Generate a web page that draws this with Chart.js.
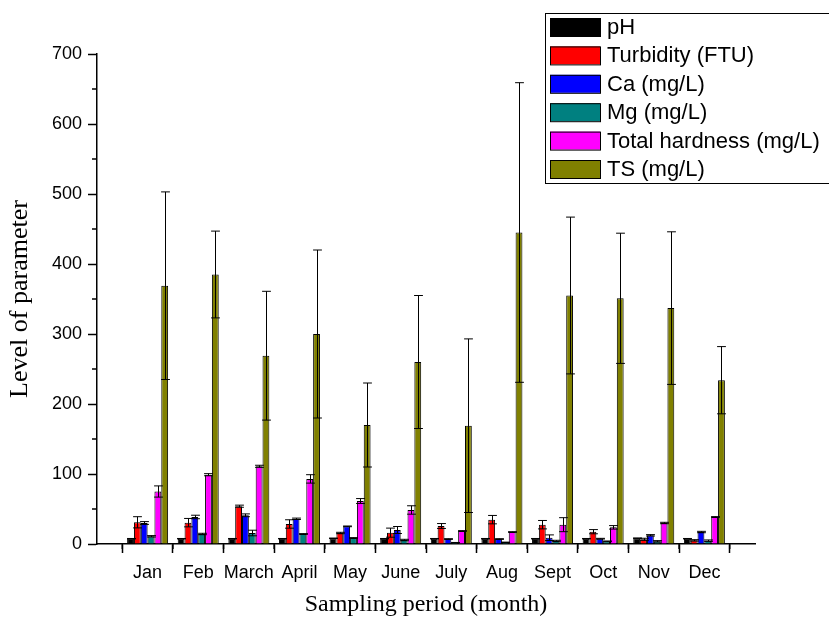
<!DOCTYPE html>
<html>
<head>
<meta charset="utf-8">
<script src="https://cdn.jsdelivr.net/npm/chart.js@4.4.0/dist/chart.umd.min.js"></script>
<style>
  html, body { margin: 0; padding: 0; background: #fff; }
  canvas { display: block; }
</style>
</head>
<body>
<canvas id="chart" width="829" height="619"></canvas>
<script>
// categories
const months = ['Jan', 'Feb', 'March', 'April', 'May', 'June', 'July', 'Aug', 'Sept', 'Oct', 'Nov', 'Dec'];

// y axis ticks
const yTicks = [0, 100, 200, 300, 400, 500, 600, 700];
const yMinorTicks = [50, 150, 250, 350, 450, 550, 650];

// series values (mean) and error (sd)
const ph = [7.6, 7.6, 7.6, 7.6, 8.2, 7.6, 7.6, 7.6, 7.6, 7.6, 8.3, 7.6];
const phErr = [0.3, 0.3, 0.3, 0.3, 0.3, 0.3, 0.3, 0.3, 0.3, 0.3, 0.3, 0.3];

const turbidity = [31, 30.5, 54, 28.6, 15.7, 16.2, 25.7, 34.8, 27.6, 17.6, 6.7, 5.2];
const turbidityErr = [8, 6, 1.5, 6, 1, 6.5, 3.5, 6, 6, 3, 1.5, 1];

const ca = [30, 38.6, 41, 36, 25.2, 20, 7.1, 7.1, 9, 7.6, 12.4, 17.1];
const caErr = [2, 2.5, 2, 1, 0.5, 5, 0.5, 0.5, 4, 0.5, 1, 1];

const mg = [11, 14.3, 15.7, 14.3, 8.6, 5.7, 1.9, 2.4, 4.3, 3.8, 3.8, 4.8];
const mgErr = [1, 1, 4, 0.5, 0.5, 1, 0.3, 0.3, 1, 0.5, 1, 1];

const totalHardness = [75, 99, 111, 93, 61.4, 48.6, 18.6, 17.1, 27.6, 23.8, 30, 38.6];
const totalHardnessErr = [8, 1.5, 1.5, 6, 3.5, 6, 0.5, 0.5, 10, 2.5, 1, 0.5];

const ts = [369, 385, 269, 300, 170, 260, 169, 445, 355, 351, 337, 234];
const tsErr = [134, 62, 92, 120, 60, 95, 124, 214, 112, 93, 109, 48];

const seriesNames = ['pH', 'Turbidity (FTU)', 'Ca (mg/L)', 'Mg (mg/L)', 'Total hardness (mg/L)', 'TS (mg/L)'];
const seriesColors = ['#000000', '#ff0000', '#0000ff', '#008080', '#ff00ff', '#808000'];
const seriesValues = [ph, turbidity, ca, mg, totalHardness, ts];
const seriesErrors = [phErr, turbidityErr, caErr, mgErr, totalHardnessErr, tsErr];

// empty slot on each side of the months, like the original axis
const labels = [''].concat(months, ['']);
function pad(arr) {
    return [null].concat(arr, [null]);
}

const datasets = seriesNames.map(function(name, i) {
    return {
        label: name,
        data: pad(seriesValues[i]),
        errors: pad(seriesErrors[i]),
        backgroundColor: seriesColors[i],
        borderColor: '#000000',
        borderWidth: 1,
        borderSkipped: 'start',
        categoryPercentage: 0.81,
        barPercentage: 1.0
    };
});

// error bars, drawn from the data through the y scale
const errorBars = {
    id: 'errorBars',
    afterDatasetsDraw(chart) {
        const ctx = chart.ctx;
        const y = chart.scales.y;
        ctx.save();
        ctx.strokeStyle = '#000000';
        ctx.lineWidth = 1;
        chart.data.datasets.forEach(function(ds, i) {
            const meta = chart.getDatasetMeta(i);
            meta.data.forEach(function(bar, j) {
                const v = ds.data[j];
                const e = ds.errors[j];
                if (v === null || e === null) return;
                const x = Math.round(bar.x) + 0.5;
                const top = y.getPixelForValue(v + e);
                const bot = y.getPixelForValue(Math.max(v - e, 0));
                const half = bar.width / 2 + 1;
                ctx.beginPath();
                ctx.moveTo(x, top);
                ctx.lineTo(x, bot);
                ctx.moveTo(x - half, top);
                ctx.lineTo(x + half, top);
                ctx.moveTo(x - half, bot);
                ctx.lineTo(x + half, bot);
                ctx.stroke();
            });
        });
        ctx.restore();
    }
};

// minor ticks on both axes
const minorTicks = {
    id: 'minorTicks',
    afterDraw(chart) {
        const ctx = chart.ctx;
        const x = chart.scales.x;
        const y = chart.scales.y;
        const area = chart.chartArea;
        ctx.save();
        ctx.strokeStyle = '#000000';
        ctx.lineWidth = 1.5;
        ctx.beginPath();
        yMinorTicks.forEach(function(v) {
            const py = y.getPixelForValue(v);
            ctx.moveTo(area.left, py);
            ctx.lineTo(area.left - 5, py);
        });
        for (let i = 0; i < labels.length - 1; i++) {
            const px = x.getPixelForValue(i + 0.5);
            ctx.moveTo(px, area.bottom);
            ctx.lineTo(px, area.bottom + 5);
        }
        ctx.stroke();
        ctx.restore();
    }
};

// boxed legend in the top right corner
const boxLegend = {
    id: 'boxLegend',
    afterDraw(chart) {
        const ctx = chart.ctx;
        const left = 545, top = 13, rowH = 28.4;
        ctx.save();
        ctx.strokeStyle = '#000000';
        ctx.lineWidth = 1;
        ctx.strokeRect(left + 0.5, top + 0.5, 300, 170);
        ctx.font = '22px "Liberation Sans", Arial, sans-serif';
        ctx.textBaseline = 'middle';
        ctx.fillStyle = '#000000';
        chart.data.datasets.forEach(function(ds, i) {
            const cy = top + 14 + i * rowH;
            ctx.fillStyle = ds.backgroundColor;
            ctx.fillRect(550, cy - 9, 50, 18);
            ctx.strokeRect(550.5, cy - 8.5, 50, 18);
            ctx.fillStyle = '#000000';
            ctx.fillText(ds.label, 607, cy + 1);
        });
        ctx.restore();
    }
};

new Chart(document.getElementById('chart'), {
    type: 'bar',
    data: {
        labels: labels,
        datasets: datasets
    },
    options: {
        responsive: false,
        animation: false,
        devicePixelRatio: 1,
        layout: {
            padding: { top: 54, right: 74, bottom: 0, left: 0 }
        },
        plugins: {
            legend: { display: false },
            tooltip: { enabled: false }
        },
        scales: {
            x: {
                offset: false,
                border: { color: '#000000', width: 1.5 },
                grid: {
                    drawOnChartArea: false,
                    drawTicks: true,
                    tickLength: 9,
                    tickColor: '#000000',
                    tickWidth: 1.5
                },
                ticks: {
                    autoSkip: false,
                    maxRotation: 0,
                    padding: 9,
                    color: '#000000',
                    font: { family: '"Liberation Sans", Arial, sans-serif', size: 18 }
                },
                title: {
                    display: true,
                    text: 'Sampling period (month)',
                    color: '#000000',
                    padding: { top: 0, bottom: 0 },
                    font: { family: '"Liberation Serif", "Times New Roman", serif', size: 24, lineHeight: 1.2 }
                },
                afterFit(scale) { scale.height = 75; }
            },
            y: {
                min: 0,
                max: 700,
                border: { color: '#000000', width: 1.5 },
                grid: {
                    drawOnChartArea: false,
                    drawTicks: true,
                    tickLength: 9,
                    tickColor: '#000000',
                    tickWidth: 1.5
                },
                afterBuildTicks(scale) {
                    scale.ticks = yTicks.map(function(v) { return { value: v }; });
                },
                ticks: {
                    padding: 6,
                    color: '#000000',
                    font: { family: '"Liberation Sans", Arial, sans-serif', size: 18 }
                },
                title: {
                    display: true,
                    text: 'Level of parameter',
                    color: '#000000',
                    padding: { top: 5, bottom: 0 },
                    font: { family: '"Liberation Serif", "Times New Roman", serif', size: 26, lineHeight: 1.2 }
                },
                afterFit(scale) { scale.width = 97; }
            }
        }
    },
    plugins: [errorBars, minorTicks, boxLegend]
});
</script>
</body>
</html>
